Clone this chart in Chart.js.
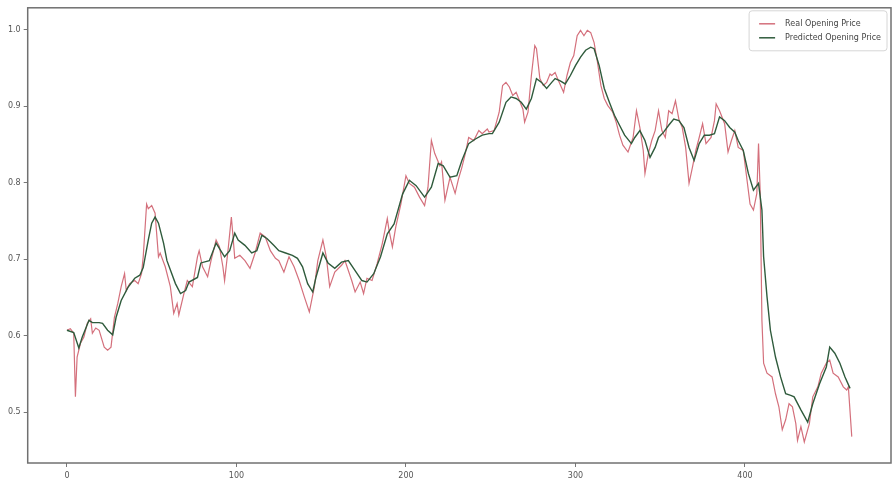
<!DOCTYPE html>
<html>
<head>
<meta charset="utf-8">
<script src="https://cdn.jsdelivr.net/npm/chart.js@4/dist/chart.umd.min.js"></script>
<style>
  html, body { margin: 0; padding: 0; background: #ffffff; }
  #wrap { width: 894px; height: 483px; }
</style>
</head>
<body>
<div id="wrap"><canvas id="chart" width="894" height="483"></canvas></div>
<script>
// Real opening price: trading-day index and scaled price at each vertex
const realDays = [0,2,4,5,6,8,10,12,14,15,17,19,22,24,26,28,30,32,34,35,37,40,42,44,45,47,48,50,52,54,55,58,61,63,65,66,69,71,74,77,
  78,80,83,85,88,90,92,93,95,97,98,99,102,105,108,111,114,117,120,123,125,128,131,134,137,140,143,146,148,151,153,155,158,162,
  164,168,170,173,175,177,180,183,186,189,190,192,194,197,200,202,205,208,211,213,215,217,220,221,223,226,229,231,233,235,237,240,243,245,248,
  249,252,255,257,259,261,263,265,267,269,270,272,274,276,277,279,281,283,285,286,288,290,293,295,297,299,301,303,305,307,309,311,313,315,317,319,322,324,326,328,331,
  334,336,338,340,341,343,345,347,349,351,353,355,357,359,361,363,365,367,369,371,373,375,377,380,382,383,385,388,390,392,394,396,399,401,403,405,407,408,409,
  410,411,413,416,418,420,422,424,426,428,430,431,433,435,438,440,443,445,448,450,452,455,458,460,461,463];
const realPrice = [0.607,0.609,0.603,0.520,0.572,0.590,0.598,0.616,0.622,0.603,0.610,0.607,0.585,0.581,0.585,0.624,0.642,0.664,0.681,0.659,0.668,0.672,0.668,0.681,0.703,0.772,0.766,0.770,0.760,0.703,0.708,0.690,0.664,0.629,0.642,0.627,0.655,0.672,0.664,0.703,
  0.711,0.690,0.677,0.698,0.725,0.716,0.690,0.672,0.711,0.755,0.729,0.701,0.705,0.698,0.688,0.708,0.734,0.729,0.711,0.701,0.698,0.683,0.703,0.690,0.672,0.651,0.631,0.664,0.698,0.725,0.703,0.664,0.683,0.692,
  0.698,0.672,0.657,0.670,0.655,0.675,0.672,0.694,0.720,0.753,0.738,0.716,0.742,0.772,0.809,0.799,0.794,0.781,0.770,0.794,0.855,0.838,0.822,0.827,0.777,0.807,0.786,0.805,0.820,0.838,0.859,0.855,0.868,0.864,0.870,
  0.866,0.868,0.892,0.927,0.931,0.925,0.914,0.918,0.907,0.896,0.879,0.892,0.940,0.979,0.975,0.936,0.927,0.931,0.942,0.940,0.944,0.933,0.918,0.940,0.957,0.966,0.992,0.999,0.992,0.999,0.996,0.983,0.957,0.927,0.910,0.901,0.892,0.879,0.862,0.849,0.840,
  0.859,0.894,0.872,0.842,0.812,0.838,0.855,0.868,0.894,0.868,0.859,0.894,0.890,0.907,0.883,0.872,0.846,0.799,0.820,0.842,0.859,0.877,0.851,0.859,0.881,0.903,0.894,0.877,0.840,0.855,0.868,0.846,0.842,0.807,0.772,0.764,0.786,0.851,0.786,
  0.620,0.564,0.551,0.546,0.524,0.507,0.477,0.490,0.511,0.507,0.485,0.463,0.481,0.461,0.485,0.520,0.533,0.551,0.564,0.568,0.551,0.546,0.533,0.529,0.533,0.468];

// Predicted opening price: trading-day index and scaled price at each vertex
const predDays = [0,4,7,9,13,15,19,21,24,27,29,32,36,40,43,45,48,50,52,54,57,59,64,67,70,72,77,
  79,84,88,93,96,99,101,105,109,112,115,118,122,125,129,133,136,139,142,145,147,151,154,158,162,
  166,170,174,177,181,185,189,193,198,202,206,211,215,219,222,226,230,233,237,241,245,249,
  251,255,259,262,265,268,271,274,277,280,283,286,288,291,294,297,300,303,306,309,311,314,317,320,323,326,329,333,
  335,338,341,344,347,349,352,355,358,361,364,367,370,373,376,379,382,385,388,391,394,396,399,402,405,408,410,
  411,413,415,418,421,424,427,429,433,437,440,444,448,450,453,456,459,462];
const predPrice = [0.607,0.604,0.584,0.598,0.620,0.617,0.617,0.616,0.607,0.601,0.624,0.646,0.663,0.675,0.679,0.689,0.725,0.747,0.755,0.747,0.721,0.698,0.668,0.655,0.659,0.670,0.676,
  0.695,0.698,0.721,0.703,0.711,0.734,0.725,0.718,0.708,0.711,0.731,0.727,0.718,0.711,0.708,0.705,0.701,0.690,0.668,0.657,0.677,0.708,0.695,0.688,0.696,
  0.698,0.685,0.672,0.670,0.681,0.703,0.733,0.746,0.785,0.803,0.796,0.781,0.794,0.825,0.822,0.807,0.809,0.829,0.851,0.857,0.862,0.864,
  0.864,0.879,0.905,0.912,0.910,0.905,0.896,0.910,0.936,0.931,0.923,0.931,0.936,0.933,0.929,0.940,0.953,0.964,0.973,0.977,0.975,0.953,0.923,0.905,0.888,0.875,0.862,0.851,
  0.859,0.868,0.855,0.833,0.846,0.859,0.866,0.875,0.883,0.881,0.872,0.846,0.829,0.851,0.862,0.862,0.864,0.886,0.881,0.872,0.866,0.855,0.842,0.812,0.790,0.799,0.764,
  0.703,0.651,0.607,0.572,0.546,0.524,0.522,0.520,0.503,0.487,0.511,0.537,0.559,0.585,0.577,0.564,0.546,0.531];

// Axis ticks
const xTickValues = [0, 100, 200, 300, 400];
const xTickLabels = ['0', '100', '200', '300', '400'];
const yTickValues = [0.5, 0.6, 0.7, 0.8, 0.9, 1.0];
const yTickLabels = ['0.5', '0.6', '0.7', '0.8', '0.9', '1.0'];

const seriesNames = ['Real Opening Price', 'Predicted Opening Price'];
const seriesColors = ['#d4707c', '#2f5b3c'];

const toPoints = (xs, ys) => xs.map((x, i) => ({ x: x, y: ys[i] }));

const tickFont = { family: '"DejaVu Sans", sans-serif', size: 8 };
const tickColor = '#555555';

// Axes frame and an in-plot legend with line samples
const frameAndLegend = {
  id: 'frameAndLegend',
  afterDraw(chart) {
    const { ctx, chartArea: a } = chart;
    ctx.save();
    ctx.strokeStyle = '#707070';
    ctx.lineWidth = 1.5;
    ctx.strokeRect(a.left, a.top, a.right - a.left, a.bottom - a.top);

    ctx.font = '8px "DejaVu Sans", sans-serif';
    const textW = Math.max(...seriesNames.map(n => ctx.measureText(n).width));
    const boxRight = a.right - 4;
    const boxTop = a.top + 3;
    const boxW = 10 + 16 + 10 + textW + 6;
    const boxH = 40;
    const boxLeft = boxRight - boxW;
    ctx.beginPath();
    ctx.roundRect(boxLeft, boxTop, boxW, boxH, 3);
    ctx.fillStyle = 'rgba(255,255,255,0.85)';
    ctx.fill();
    ctx.strokeStyle = '#d6d6d6';
    ctx.lineWidth = 1;
    ctx.stroke();

    seriesNames.forEach((name, i) => {
      const cy = boxTop + 13 + i * 14;
      ctx.beginPath();
      ctx.moveTo(boxLeft + 10, cy);
      ctx.lineTo(boxLeft + 26, cy);
      ctx.strokeStyle = seriesColors[i];
      ctx.lineWidth = 1.5;
      ctx.stroke();
      ctx.fillStyle = '#444444';
      ctx.textBaseline = 'middle';
      ctx.textAlign = 'left';
      ctx.fillText(name, boxLeft + 36, cy);
    });
    ctx.restore();
  }
};

new Chart(document.getElementById('chart'), {
  type: 'line',
  data: {
    datasets: [
      {
        label: seriesNames[0],
        data: toPoints(realDays, realPrice),
        borderColor: seriesColors[0],
        borderWidth: 1.2,
        order: 1
      },
      {
        label: seriesNames[1],
        data: toPoints(predDays, predPrice),
        borderColor: seriesColors[1],
        borderWidth: 1.4,
        order: 0
      }
    ]
  },
  options: {
    responsive: false,
    animation: false,
    devicePixelRatio: 1,
    layout: { padding: { top: 7, right: 3, left: 0, bottom: 0 } },
    elements: { point: { radius: 0 }, line: { tension: 0, fill: false } },
    plugins: { legend: { display: false }, tooltip: { enabled: false } },
    scales: {
      x: {
        type: 'linear',
        min: -23.15,
        max: 486.15,
        afterBuildTicks: s => { s.ticks = xTickValues.map(v => ({ value: v })); },
        afterFit: s => { s.height = 20; },
        grid: { display: true, drawOnChartArea: false, drawTicks: true, tickLength: 4, color: '#777777' },
        border: { display: false },
        ticks: {
          font: tickFont, color: tickColor, padding: 4, maxRotation: 0, autoSkip: false,
          callback: v => xTickLabels[xTickValues.indexOf(v)]
        }
      },
      y: {
        type: 'linear',
        min: 0.4335,
        max: 1.0285,
        afterBuildTicks: s => { s.ticks = yTickValues.map(v => ({ value: v })); },
        afterFit: s => { s.width = 27.7; },
        grid: { display: true, drawOnChartArea: false, drawTicks: true, tickLength: 4, color: '#777777' },
        border: { display: false },
        ticks: {
          font: tickFont, color: tickColor, padding: 3, autoSkip: false,
          callback: v => yTickLabels[yTickValues.findIndex(t => Math.abs(t - v) < 1e-9)]
        }
      }
    }
  },
  plugins: [frameAndLegend]
});
</script>
</body>
</html>
